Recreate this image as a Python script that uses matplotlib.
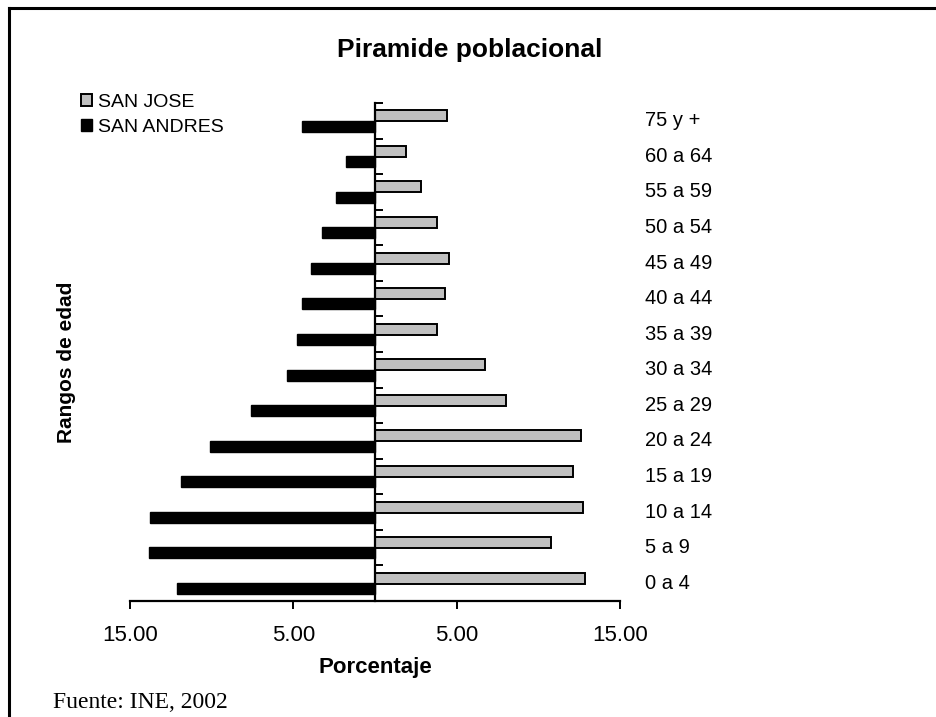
import matplotlib
matplotlib.use("Agg")
import matplotlib.pyplot as plt
import matplotlib.lines as mlines
import matplotlib.transforms as mtransforms
import numpy as np

plt.rcParams['font.family'] = ['Liberation Sans', 'DejaVu Sans']

# age groups, bottom to top
grupos = ['0 a 4', '5 a 9', '10 a 14', '15 a 19', '20 a 24', '25 a 29',
          '30 a 34', '35 a 39', '40 a 44', '45 a 49', '50 a 54', '55 a 59',
          '60 a 64', '75 y +']
# percentages per group
san_jose = [12.85, 10.75, 12.75, 12.1, 12.6, 8.0, 6.75, 3.8, 4.3, 4.5,
            3.8, 2.8, 1.9, 4.4]
san_andres = [12.1, 13.85, 13.75, 11.85, 10.1, 7.6, 5.4, 4.75, 4.5, 3.9,
              3.25, 2.4, 1.75, 4.5]
xticks = [-15, -5, 5, 15]
xtick_labels = ['15.00', '5.00', '5.00', '15.00']

W, H = 937, 717
fig = plt.figure(figsize=(W / 100, H / 100), dpi=100)
ax = fig.add_axes([130 / W, 1 - 601 / H, 490 / W, 498 / H])

y = np.arange(len(grupos))
h = 0.31
ax.barh(y + 0.14, san_jose, height=h, color='#c0c0c0', edgecolor='black',
        linewidth=1.4, label='SAN JOSE', zorder=2)
ax.barh(y - 0.15, [-v for v in san_andres], height=h, color='black',
        edgecolor='black', linewidth=1.0, label='SAN ANDRES', zorder=2)

ax.set_xlim(-15, 15)
ax.set_ylim(-0.5, len(grupos) - 0.5)

for s in ['top', 'right']:
    ax.spines[s].set_visible(False)
ax.spines['left'].set_position(('data', 0))
ax.spines['left'].set_linewidth(1.6)
ax.spines['left'].set_zorder(3)
ax.spines['bottom'].set_linewidth(1.6)

ax.set_yticks(np.arange(-0.5, len(grupos), 1.0))
ax.set_yticklabels([])
ax.tick_params(axis='y', direction='in', length=5.5, width=1.4)
ax.set_xticks(xticks)
ax.set_xticklabels(xtick_labels, fontsize=16)
ax.tick_params(axis='x', direction='out', length=5.5, width=1.4, pad=12)

# group labels on the right
trans = mtransforms.blended_transform_factory(ax.transAxes, ax.transData)
for yi, g in zip(y, grupos):
    ax.text(1.052, yi, g, transform=trans, fontsize=14.5, va='center',
            ha='left')

ax.set_xlabel('Porcentaje', fontsize=16, fontweight='bold', labelpad=8)
fig.text(67 / W, 1 - 362 / H, 'Rangos de edad', rotation=90, fontsize=15,
         fontweight='bold', ha='center', va='center')
fig.text(470 / W, 1 - 50 / H, 'Piramide poblacional', fontsize=19,
         fontweight='bold', ha='center', va='center')
fig.text(53 / W, 1 - 708 / H, 'Fuente: INE, 2002', fontsize=17,
         family='Liberation Serif', ha='left', va='baseline')

leg = ax.legend(loc='upper left', bbox_to_anchor=(81 / W, 1 - 94 / H),
                bbox_transform=fig.transFigure, frameon=False, fontsize=14,
                handlelength=0.55, handleheight=0.55, handletextpad=0.3,
                labelspacing=0.4, borderpad=0, borderaxespad=0)

# outer frame (top and left edges)
fig.add_artist(mlines.Line2D([9.5 / W, 1], [1 - 8 / H, 1 - 8 / H],
                             color='black', linewidth=2.2))
fig.add_artist(mlines.Line2D([9.5 / W, 9.5 / W], [0, 1 - 8 / H],
                             color='black', linewidth=2.2))

fig.savefig('out.png', dpi=100)
